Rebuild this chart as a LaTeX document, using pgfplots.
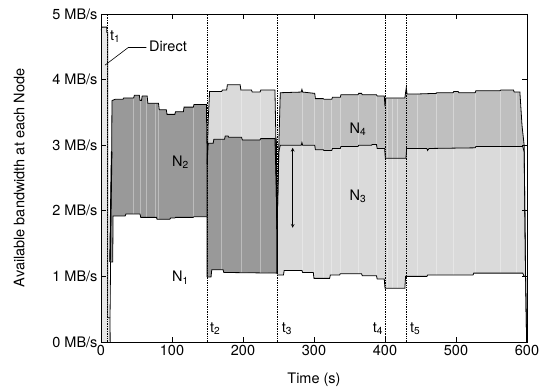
\documentclass[border=0pt]{standalone}
\usepackage{fontspec}
\setmainfont{TeX Gyre Heros}
\usepackage{pgfplots}
\pgfplotsset{compat=1.18}
\definecolor{dgray}{gray}{0.60}
\definecolor{lgray}{gray}{0.855}
\definecolor{mgray}{gray}{0.75}
\definecolor{dirgray}{gray}{0.91}
\begin{document}
\begin{tikzpicture}[font=\fontsize{14.5}{17}\selectfont]
\path[use as bounding box] (-101pt,-45pt) rectangle (441pt,342pt);
\begin{axis}[
  at={(0,0)}, anchor=south west,
  scale only axis, width=426pt, height=328pt,
  xmin=0, xmax=600, ymin=0, ymax=5,
  xtick={0,100,200,300,400,500,600},
  xticklabels={0,100,200,300,400,500,600},
  ytick={0,1,2,3,4,5},
  yticklabels={0 MB/s,1 MB/s,2 MB/s,3 MB/s,4 MB/s,5 MB/s},
  tick align=inside, major tick length=5pt,
  axis line style={line width=0.8pt},
  every tick/.style={black, line width=0.6pt},
  axis on top,
  xlabel={Time (s)},
  ylabel={Available bandwidth at each Node},
  xlabel style={at={(axis description cs:0.5,-0.116)}, anchor=center},
  ylabel style={at={(axis description cs:-0.192,0.5)}, anchor=center},
]
% ---------- Direct
\addplot[fill=dirgray, draw=none] coordinates {
(0,0) (0.2,4.75) (1,4.8) (8,4.8) (8.3,4.72) (9.4,4.72) (9.6,0.45) (9.6,0.37) (12.7,0.37) (12.7,0)
} \closedcycle;
% ---------- Period B (15-150)
\addplot[fill=dgray, draw=none] coordinates {
(12.7,1.22) (15,2.9) (15.5,3.68) (20,3.70) (31,3.70) (32,3.72) (46,3.72) (47,3.76) (54,3.76) (55,3.68) (57,3.68) (58,3.75) (65,3.75) (66,3.64) (81,3.64) (82,3.54) (92,3.54) (93,3.47) (104,3.47) (105,3.51) (116,3.51) (117,3.58) (130,3.58) (131,3.62) (148.5,3.62) (149.5,2.72)
} \closedcycle;
\addplot[fill=white, draw=none] coordinates {
(12.7,0.37) (13.5,1.22) (16.5,1.22) (17,1.92) (34,1.92) (35,1.95) (55,1.95) (56,1.90) (78,1.90) (79,1.87) (97,1.87) (98,1.89) (104,1.89) (105,1.90) (130,1.90) (131,1.91) (149.5,1.91)
} \closedcycle;
% ---------- Period C (150-248)
\addplot[fill=lgray, draw=none] coordinates {
(149.5,2.72) (151,3.38) (153,3.82) (170,3.82) (171,3.84) (177,3.84) (178,3.92) (196,3.92) (197,3.84) (212,3.84) (213,3.81) (224,3.81) (225,3.84) (245,3.84) (246.5,3.0) (248,1.72)
} \closedcycle;
\addplot[fill=dgray, draw=none] coordinates {
(149.5,2.72) (151,3.03) (158,3.03) (159,3.09) (174,3.09) (175,3.14) (179,3.14) (180,3.12) (198,3.12) (199,3.08) (224,3.08) (225,3.10) (245,3.10) (246.5,2.5) (248,1.72)
} \closedcycle;
\addplot[fill=white, draw=none] coordinates {
(149.5,0.99) (155,0.99) (156,1.10) (172,1.10) (173,1.06) (248,1.05)
} \closedcycle;
% ---------- Period D (248-600)
\addplot[fill=mgray, draw=none] coordinates {
(248,1.72) (250.5,3.0) (252.5,3.80) (282,3.81) (283,3.85) (284,3.81) (301,3.79) (302,3.71) (313,3.71) (314,3.70) (325,3.70) (326,3.73) (337,3.73) (338,3.77) (362,3.77) (363,3.79) (367,3.79) (368,3.77) (388,3.77) (389,3.75) (399,3.75) (400,3.59) (401,3.72) (428,3.72) (430,3.88) (431,3.78) (444,3.78) (472,3.79) (473,3.80) (496,3.80) (497,3.82) (503,3.82) (504,3.80) (527,3.80) (528,3.83) (562,3.83) (563,3.84) (581,3.84) (582,3.81) (590,3.81) (593,3.3) (596,3.0) (598,1.0) (599.5,0)
} \closedcycle;
\addplot[fill=lgray, draw=none] coordinates {
(248,1.72) (250.5,2.9) (252.5,3.0) (282,3.0) (283,3.04) (284,3.0) (301,3.0) (302,2.93) (313,2.93) (314,2.92) (325,2.92) (326,2.95) (337,2.95) (338,2.98) (362,2.98) (363,3.0) (381,3.0) (382,3.01) (388,3.01) (389,2.95) (399.5,2.95) (400.5,2.80) (429.5,2.80) (430.5,2.95) (459,2.95) (460,2.92) (462,2.95) (527,2.96) (528,2.98) (594,2.98) (596,2.9) (598,1.0) (599.5,0)
} \closedcycle;
\addplot[fill=white, draw=none] coordinates {
(248,1.02) (257,1.02) (258,1.09) (283,1.09) (284,1.06) (299,1.06) (300,0.97) (322,0.97) (323,1.02) (336,1.02) (337,1.04) (367,1.04) (368,1.01) (388,1.01) (389,0.96) (399,0.96) (400,0.82) (428,0.82) (429,1.00) (459,1.00) (460,1.02) (524,1.02) (525,1.05) (594,1.05) (596,1.0) (598,1.0) (599.5,0)
} \closedcycle;
% ---------- faint patch edges
\addplot[ycomb, white, opacity=0.35, line width=0.8pt, mark=none] coordinates {
(46,3.74) (55,3.74) (64,3.74) (76,3.63) (81,3.62) (130,3.6)
(170,3.82) (198,3.9) (224,3.8)
(283,3.8) (301,3.78) (313,3.7) (325,3.7) (337,3.72) (362,3.76) (388,3.75) (404,3.71) (411,3.71) (418,3.71) (445,3.77) (473,3.78) (496,3.79) (527,3.8) (562,3.82) (585,3.8)
};
% ---------- boundary lines
\addplot[black, line width=0.8pt] coordinates {
(0.2,4.75) (1,4.8) (8,4.8) (8.3,4.72) (9.4,4.72) (9.6,0.45) (9.6,0.37) (12.7,0.37) (12.9,0)
};
\addplot[black, line width=0.8pt] coordinates {
(12.7,1.22) (15,2.9) (15.5,3.68) (20,3.70) (31,3.70) (32,3.72) (46,3.72) (47,3.76) (54,3.76) (55,3.68) (57,3.68) (58,3.75) (65,3.75) (66,3.64) (81,3.64) (82,3.54) (92,3.54) (93,3.47) (104,3.47) (105,3.51) (116,3.51) (117,3.58) (130,3.58) (131,3.62) (148.5,3.62) (149.5,2.72) (149.5,1.91)
};
\addplot[black, line width=1.4pt] coordinates {(12.7,1.22) (15,2.9)};
\addplot[black, line width=0.8pt] coordinates {
(12.7,0.37) (13.5,1.22) (16.5,1.22) (17,1.92) (34,1.92) (35,1.95) (55,1.95) (56,1.90) (78,1.90) (79,1.87) (97,1.87) (98,1.89) (104,1.89) (105,1.90) (130,1.90) (131,1.91) (149.5,1.91) (149.5,0.99)
};
\addplot[black, line width=0.8pt] coordinates {
(149.5,2.72) (151,3.38) (153,3.82) (170,3.82) (171,3.84) (177,3.84) (178,3.92) (196,3.92) (197,3.84) (212,3.84) (213,3.81) (224,3.81) (225,3.84) (245,3.84) (246.5,3.0) (248,1.72)
};
\addplot[black, line width=0.8pt] coordinates {
(149.5,2.72) (151,3.03) (158,3.03) (159,3.09) (174,3.09) (175,3.14) (179,3.14) (180,3.12) (198,3.12) (199,3.08) (224,3.08) (225,3.10) (245,3.10) (246.5,2.5) (248,1.72)
};
\addplot[black, line width=1.4pt] coordinates {(246.5,3.1) (248,1.72) (248,1.05)};
\addplot[black, line width=0.8pt] coordinates {
(149.5,0.99) (155,0.99) (156,1.10) (172,1.10) (173,1.06) (248,1.05)
};
\addplot[black, line width=0.8pt] coordinates {
(248,1.72) (250.5,3.0) (252.5,3.80) (282,3.81) (283,3.85) (284,3.81) (301,3.79) (302,3.71) (313,3.71) (314,3.70) (325,3.70) (326,3.73) (337,3.73) (338,3.77) (362,3.77) (363,3.79) (367,3.79) (368,3.77) (388,3.77) (389,3.75) (399,3.75) (400,3.59) (401,3.72) (428,3.72) (430,3.88) (431,3.78) (444,3.78) (472,3.79) (473,3.80) (496,3.80) (497,3.82) (503,3.82) (504,3.80) (527,3.80) (528,3.83) (562,3.83) (563,3.84) (581,3.84) (582,3.81) (590,3.81) (593,3.3) (596,3.0) (598,1.0) (599.5,0)
};
\addplot[black, line width=0.8pt] coordinates {
(248,1.72) (250.5,2.9) (252.5,3.0) (282,3.0) (283,3.04) (284,3.0) (301,3.0) (302,2.93) (313,2.93) (314,2.92) (325,2.92) (326,2.95) (337,2.95) (338,2.98) (362,2.98) (363,3.0) (381,3.0) (382,3.01) (388,3.01) (389,2.95) (399.5,2.95) (400.5,2.80) (429.5,2.80) (430.5,2.95) (459,2.95) (460,2.92) (462,2.95) (527,2.96) (528,2.98) (594,2.98) (596,2.9) (598,1.0)
};
\addplot[black, line width=0.8pt] coordinates {
(248,1.02) (257,1.02) (258,1.09) (283,1.09) (284,1.06) (299,1.06) (300,0.97) (322,0.97) (323,1.02) (336,1.02) (337,1.04) (367,1.04) (368,1.01) (388,1.01) (389,0.96) (399,0.96) (400,0.82) (428,0.82) (429,1.00) (459,1.00) (460,1.02) (524,1.02) (525,1.05) (594,1.05) (596,1.0) (598,1.0) (599.5,0)
};
% ---------- event lines
\addplot[black, densely dotted, line width=0.7pt] coordinates {(9.4,0) (9.4,5)};
\addplot[black, densely dotted, line width=0.7pt] coordinates {(150,0) (150,5)};
\addplot[black, densely dotted, line width=0.7pt] coordinates {(249,0) (249,5)};
\addplot[black, densely dotted, line width=0.7pt] coordinates {(400,0) (400,5)};
\addplot[black, densely dotted, line width=0.7pt] coordinates {(430,0) (430,5)};
% ---------- annotations
\addplot[black, line width=0.7pt, <->, >=stealth] coordinates {(270,1.74) (270,2.96)};
\addplot[black, line width=0.6pt] coordinates {(64,4.49) (38.5,4.49) (5.6,4.22)};
\node[anchor=west, inner sep=1pt] at (axis cs:66,4.5) {Direct};
\node[anchor=west, inner sep=0pt] at (axis cs:12.7,4.66) {t\textsubscript{1}};
\node[anchor=west, inner sep=0pt] at (axis cs:153.5,0.2) {t\textsubscript{2}};
\node[anchor=west, inner sep=0pt] at (axis cs:254.5,0.2) {t\textsubscript{3}};
\node[anchor=east, inner sep=0pt] at (axis cs:397.5,0.2) {t\textsubscript{4}};
\node[anchor=west, inner sep=0pt] at (axis cs:435,0.2) {t\textsubscript{5}};
\node at (axis cs:112,0.98) {N\textsubscript{1}};
\node at (axis cs:112,2.74) {N\textsubscript{2}};
\node at (axis cs:362,2.22) {N\textsubscript{3}};
\node at (axis cs:362,3.24) {N\textsubscript{4}};
\end{axis}
\end{tikzpicture}
\end{document}
